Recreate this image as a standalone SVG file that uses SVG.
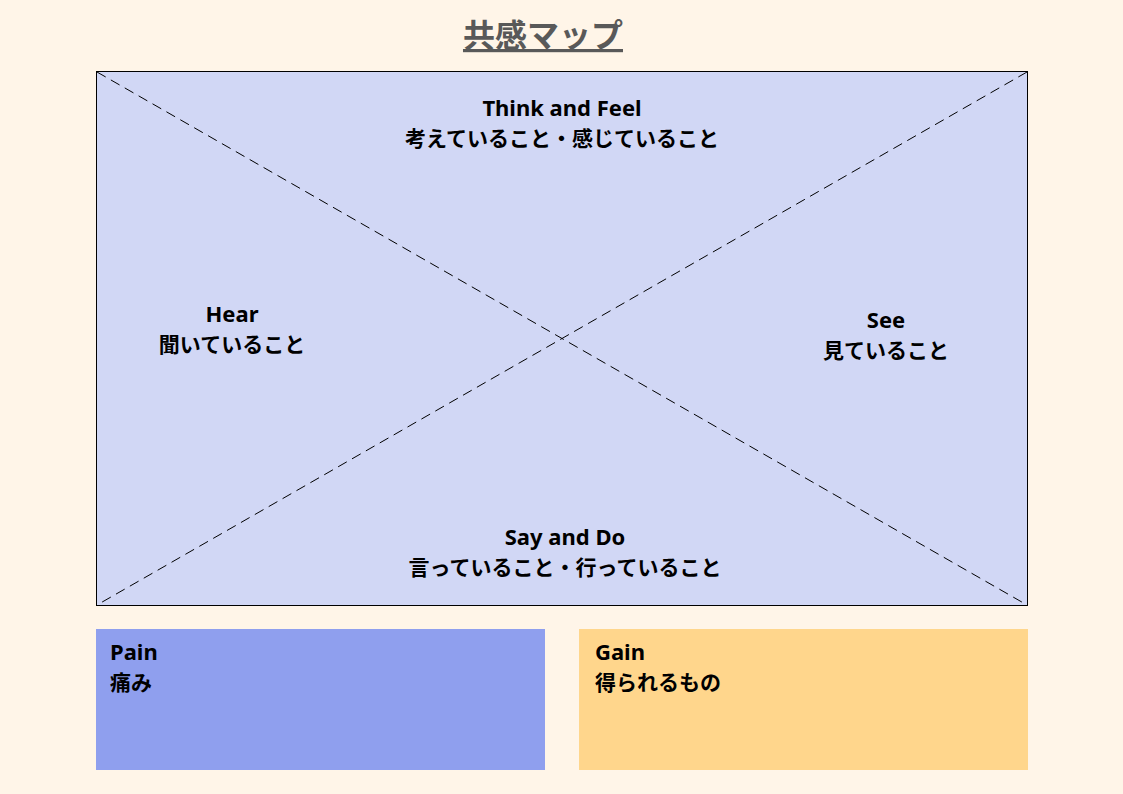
<svg xmlns="http://www.w3.org/2000/svg" width="1123" height="794" viewBox="0 0 1123 794">
<style>
.t{font-family:"Noto Sans CJK JP","Noto Sans",sans-serif;font-size:21px;font-weight:bold;fill:#000}
.e{font-family:"Noto Sans","Noto Sans CJK JP",sans-serif;font-size:22px;font-weight:bold;fill:#000}
.c{text-anchor:middle}
.d{stroke:#000;stroke-width:1;stroke-dasharray:10 6;fill:none}
</style>
<rect width="1123" height="794" fill="#FFF5E8"/>
<g id="title">
<text x="543" y="47" class="c" style="font-family:'Noto Sans CJK JP',sans-serif;font-size:32px;font-weight:bold;fill:#595959;text-decoration:underline">共感マップ</text>
</g>
<g id="map">
<rect x="96.5" y="71.5" width="931" height="534" fill="#D1D7F5" stroke="#000" stroke-width="1"/>
</g>
<g id="connectors">
<line class="d" x1="97" y1="72" x2="1027" y2="605"/>
<line class="d" x1="1027" y1="72" x2="97" y2="605"/>
</g>
<g id="think">
<text class="e c" x="562" y="116">Think and Feel</text>
<text class="t c" x="562" y="146">考えていること・感じていること</text>
</g>
<g id="hear">
<text class="e c" x="232" y="322">Hear</text>
<text class="t c" x="232" y="352">聞いていること</text>
</g>
<g id="see">
<text class="e c" x="886" y="328">See</text>
<text class="t c" x="886" y="358">見ていること</text>
</g>
<g id="say">
<text class="e c" x="565" y="545">Say and Do</text>
<text class="t c" x="565" y="575">言っていること・行っていること</text>
</g>
<g id="pain">
<rect x="96" y="629" width="449" height="141" fill="#8F9FEE"/>
<text class="e" x="110" y="660" font-weight="600">Pain</text>
<text class="t" x="110" y="690">痛み</text>
</g>
<g id="gain">
<rect x="579" y="629" width="449" height="141" fill="#FFD68C"/>
<text class="e" x="595" y="660" font-weight="600">Gain</text>
<text class="t" x="595" y="690">得られるもの</text>
</g>
</svg>
